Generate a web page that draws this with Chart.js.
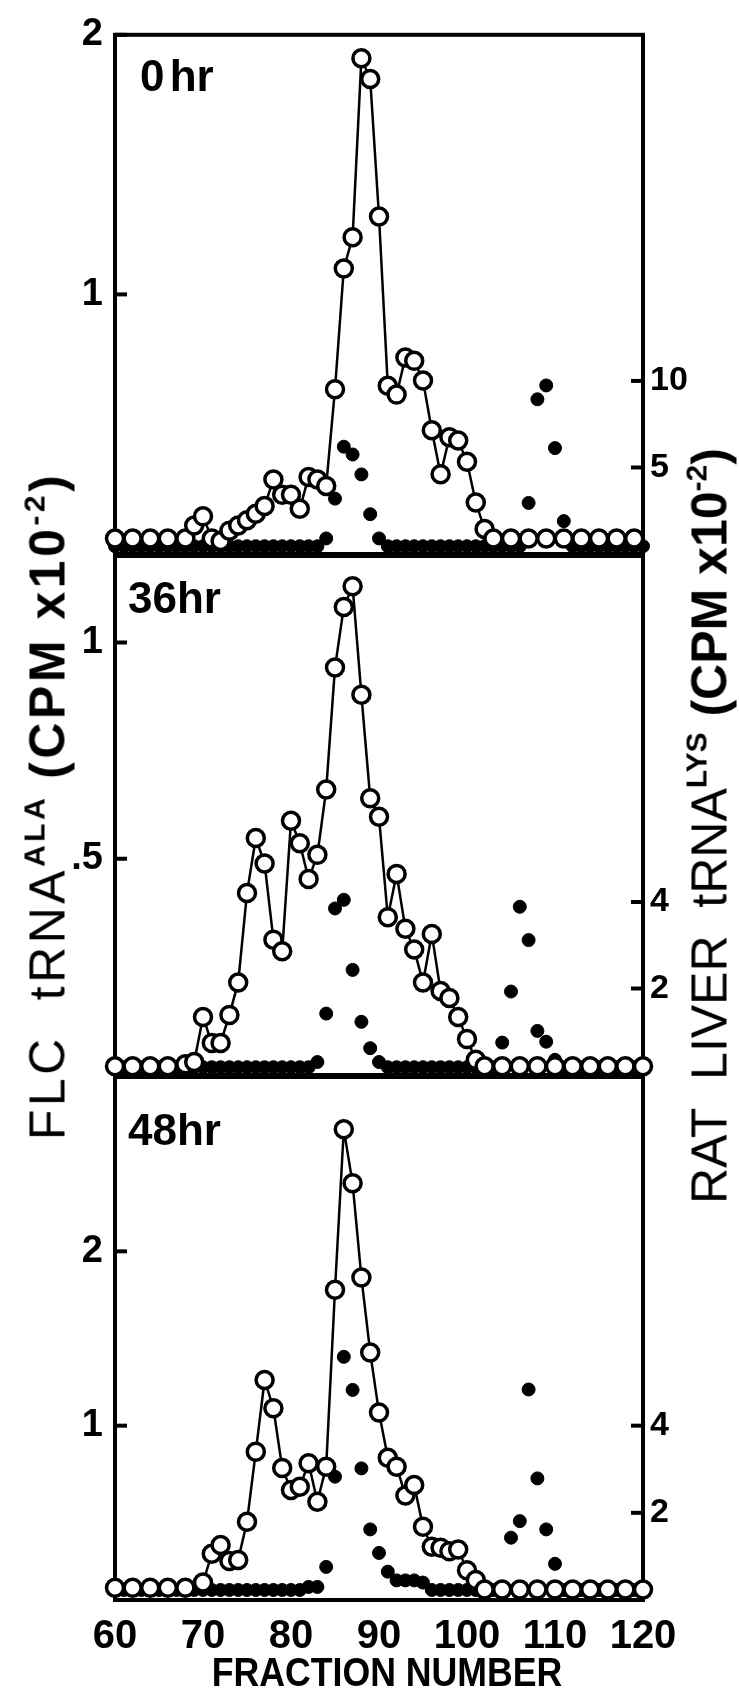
<!DOCTYPE html>
<html>
<head>
<meta charset="utf-8">
<title>FLC tRNA-Ala / rat liver tRNA-Lys elution profiles</title>
<script src="https://cdn.jsdelivr.net/npm/chart.js"></script>
<style>
  body { margin: 0; background: #fff; }
  #wrap {
    position: relative; width: 739px; height: 1693px; overflow: hidden;
    font-family: 'Liberation Sans', Arial, sans-serif; color: #000;
  }
  canvas { position: absolute; left: 0; top: 0; }
  .tag { position: absolute; font-weight: bold; font-size: 44px; line-height: 44px; white-space: nowrap; }
  .vtitle {
    position: absolute; white-space: nowrap; font-size: 50px; line-height: 50px;
    transform: translate(-50%, -50%) rotate(-90deg);
  }
  .vtitle .sup { font-size: 30px; position: relative; top: -20px; font-weight: bold; margin-right: 16px; }
  .vtitle .sup.last { margin-right: 0; }
  #xtitle {
    position: absolute; left: 387px; top: 1672px; white-space: nowrap;
    font-weight: bold; font-size: 41px; line-height: 41px;
    transform: translate(-50%, -50%) scaleX(0.87);
  }
</style>
</head>
<body>
<div id="wrap">
  <canvas id="panel1" width="739" height="1693"></canvas>
  <canvas id="panel2" width="739" height="1693"></canvas>
  <canvas id="panel3" width="739" height="1693"></canvas>

  <div class="tag" style="left:140px; top:54px; word-spacing:-7px;">0 hr</div>
  <div class="tag" style="left:128px; top:576px;">36hr</div>
  <div class="tag" style="left:128px; top:1108px;">48hr</div>

  <div class="vtitle" style="left:51px; top:806px; letter-spacing:3.5px;">FLC&nbsp; tRNA<span class="sup">ALA</span><b>(CPM x10</b><span class="sup last">-2</span><b>)</b></div>
  <div class="vtitle" style="left:713px; top:826px; letter-spacing:0px;">RAT&nbsp; LIVER&nbsp; tRNA<span class="sup">LYS</span><b>(CPM x10</b><span class="sup last">-2</span><b>)</b></div>
  <div id="xtitle">FRACTION NUMBER</div>
</div>

<script>
  // ---- data ----
  const xTicks = [60, 70, 80, 90, 100, 110, 120];

  // every fraction counted for the rat liver tRNA-Lys marker (filled dots)
  const ratFrac = [60, 61, 62, 63, 64, 65, 66, 67, 68, 69, 70, 71, 72, 73, 74, 75, 76, 77, 78, 79,
                   80, 81, 82, 83, 84, 85, 86, 87, 88, 89, 90, 91, 92, 93, 94, 95, 96, 97, 98, 99,
                   100, 101, 102, 103, 104, 105, 106, 107, 108, 109, 110, 111, 112, 113, 114, 115,
                   116, 117, 118, 119, 120];

  // 0 hr
  const p1Frac = [60, 62, 64, 66, 68, 69, 70, 71, 72, 73, 74, 75, 76, 77, 78, 79, 80, 81, 82, 83,
                  84, 85, 86, 87, 88, 89, 90, 91, 92, 93, 94, 95, 96, 97, 98, 99, 100, 101, 102, 103,
                  105, 107, 109, 111, 113, 115, 117, 119];
  const p1Flc = [0.06, 0.06, 0.06, 0.06, 0.06, 0.11, 0.145, 0.06, 0.05, 0.09, 0.11, 0.13, 0.155, 0.185,
                 0.287, 0.228, 0.228, 0.174, 0.297, 0.287, 0.262, 0.635, 1.10, 1.22, 1.91, 1.83, 1.30,
                 0.648, 0.614, 0.757, 0.744, 0.668, 0.477, 0.307, 0.45, 0.437, 0.355, 0.198, 0.096,
                 0.06, 0.06, 0.06, 0.06, 0.06, 0.06, 0.06, 0.06, 0.06];
  const p1Rat = [0.45, 0.45, 0.45, 0.45, 0.45, 0.45, 0.45, 0.45, 0.45, 0.45, 0.45, 0.45, 0.45, 0.45,
                 0.45, 0.45, 0.45, 0.45, 0.45, 0.45, 0.45, 0.45, 0.45, 0.45,
                 0.9, 3.2, 6.2, 5.75, 4.6, 2.3, 0.9,
                 0.45, 0.45, 0.45, 0.45, 0.45, 0.45, 0.45, 0.45, 0.45, 0.45, 0.45, 0.45, 0.45, 0.45,
                 0.45, 0.45,
                 2.95, 8.94, 9.74, 6.12, 1.9,
                 0.45, 0.45, 0.45, 0.45, 0.45, 0.45, 0.45, 0.45, 0.45];

  // 36 hr
  const p2Frac = [60, 62, 64, 66, 68, 69, 70, 71, 72, 73, 74, 75, 76, 77, 78, 79, 80, 81, 82, 83,
                  84, 85, 86, 87, 88, 89, 90, 91, 92, 93, 94, 95, 96, 97, 98, 99, 100, 101, 102,
                  104, 106, 108, 110, 112, 114, 116, 118, 120];
  const p2Flc = [0.02, 0.02, 0.02, 0.02, 0.025, 0.03, 0.134, 0.074, 0.074, 0.139, 0.214, 0.421, 0.548,
                 0.489, 0.313, 0.286, 0.588, 0.536, 0.453, 0.509, 0.66, 0.942, 1.082, 1.13, 0.879,
                 0.64, 0.597, 0.365, 0.465, 0.338, 0.29, 0.214, 0.326, 0.194, 0.178, 0.134, 0.083,
                 0.035, 0.02, 0.02, 0.02, 0.02, 0.02, 0.02, 0.02, 0.02, 0.02, 0.02];
  const p2Rat = [0.18, 0.18, 0.18, 0.18, 0.18, 0.18, 0.18, 0.18, 0.18, 0.18, 0.18, 0.18, 0.18, 0.18,
                 0.18, 0.18, 0.18, 0.18, 0.18, 0.18, 0.18, 0.18, 0.18,
                 0.3, 1.42, 3.85, 4.05, 2.43, 1.23, 0.62, 0.3,
                 0.18, 0.18, 0.18, 0.18, 0.18, 0.18, 0.18, 0.18, 0.18, 0.18, 0.18, 0.18, 0.18,
                 0.75, 1.93, 3.89, 3.12, 1.02, 0.77, 0.35,
                 0.18, 0.18, 0.18, 0.18, 0.18, 0.18, 0.18, 0.18, 0.18, 0.18];

  // 48 hr
  const p3Frac = [60, 62, 64, 66, 68, 70, 71, 72, 73, 74, 75, 76, 77, 78, 79, 80, 81, 82, 83, 84,
                  85, 86, 87, 88, 89, 90, 91, 92, 93, 94, 95, 96, 97, 98, 99, 100, 101, 102,
                  104, 106, 108, 110, 112, 114, 116, 118, 120];
  const p3Flc = [0.07, 0.07, 0.07, 0.07, 0.07, 0.10, 0.265, 0.316, 0.224, 0.23, 0.449, 0.851, 1.262,
                 1.10, 0.757, 0.631, 0.65, 0.785, 0.564, 0.765, 1.78, 2.70, 2.39, 1.85, 1.42, 1.075,
                 0.816, 0.765, 0.60, 0.66, 0.42, 0.306, 0.30, 0.28, 0.29, 0.17, 0.115, 0.06,
                 0.06, 0.06, 0.06, 0.06, 0.06, 0.06, 0.06, 0.06, 0.06];
  const p3Rat = [0.23, 0.23, 0.23, 0.23, 0.23, 0.23, 0.23, 0.23, 0.23, 0.23, 0.23, 0.23, 0.23, 0.23,
                 0.23, 0.23, 0.23, 0.23, 0.23, 0.23, 0.23, 0.23,
                 0.3, 0.3, 0.76, 2.83, 5.58, 4.82, 3.02, 1.62, 1.08, 0.65, 0.45, 0.45, 0.45, 0.4,
                 0.23, 0.23, 0.23, 0.23, 0.23, 0.23, 0.23, 0.23,
                 0.3, 1.43, 1.81, 4.83, 2.79, 1.62, 0.83,
                 0.23, 0.23, 0.23, 0.23, 0.23, 0.23, 0.23, 0.23, 0.23, 0.23];

  // axis ranges and tick labels
  const p1LeftTicks = [1, 2],    p1LeftLabels = ['1', '2'];
  const p1RightTicks = [5, 10],  p1RightLabels = ['5', '10'];
  const p2LeftTicks = [0.5, 1],  p2LeftLabels = ['.5', '1'];
  const p2RightTicks = [2, 4],   p2RightLabels = ['2', '4'];
  const p3LeftTicks = [1, 2],    p3LeftLabels = ['1', '2'];
  const p3RightTicks = [2, 4],   p3RightLabels = ['2', '4'];

  // ---- layout ----
  const H = 1693;
  const PLOT_LEFT = 115;   // left frame x
  const RIGHT_W = 96;      // 739 - right frame x
  const FONT = "'Liberation Sans', Arial, sans-serif";

  // frame + inward tick marks
  const framePlugin = {
    id: 'frame',
    beforeDatasetsDraw(chart) {
      const { ctx, chartArea: a } = chart;
      ctx.save();
      ctx.strokeStyle = '#000';
      ctx.lineWidth = 4;
      ctx.strokeRect(a.left, a.top, a.right - a.left, a.bottom - a.top);
      ['yL', 'yR'].forEach(id => {
        const s = chart.scales[id];
        const x0 = id === 'yL' ? a.left : a.right;
        const dir = id === 'yL' ? 1 : -1;
        s.ticks.forEach(t => {
          const y = s.getPixelForValue(t.value);
          ctx.beginPath();
          ctx.moveTo(x0, y);
          ctx.lineTo(x0 + dir * 12, y);
          ctx.stroke();
        });
      });
      ctx.restore();
    }
  };

  function makePanel(id, p) {
    const flcPts = p.frac.map((f, i) => ({ x: f, y: p.flc[i] }));
    const ratPts = ratFrac.map((f, i) => ({ x: f, y: p.rat[i] }));
    return new Chart(document.getElementById(id), {
      type: 'line',
      data: {
        datasets: [
          {
            label: 'FLC tRNA Ala',
            data: flcPts,
            yAxisID: 'yL',
            borderColor: '#000',
            borderWidth: 2.5,
            pointRadius: 8.5,
            pointBorderWidth: 3.5,
            pointBackgroundColor: '#fff',
            pointBorderColor: '#000',
            tension: 0,
            clip: false
          },
          {
            label: 'Rat liver tRNA Lys',
            data: ratPts,
            yAxisID: 'yR',
            showLine: false,
            pointRadius: 6.5,
            pointBorderWidth: 1,
            pointBackgroundColor: '#000',
            pointBorderColor: '#000',
            clip: false
          }
        ]
      },
      options: {
        responsive: false,
        animation: false,
        events: [],
        layout: { padding: { top: p.top, left: 0, right: 0, bottom: 0 } },
        plugins: { legend: { display: false }, tooltip: { enabled: false } },
        scales: {
          x: {
            type: 'linear', position: 'bottom', min: 60, max: 120,
            grid: { display: false }, border: { display: false },
            ticks: {
              display: p.showX, autoSkip: false, maxRotation: 0, padding: 5,
              color: '#000', font: { family: FONT, size: 40, weight: 'bold' }
            },
            afterBuildTicks: s => { s.ticks = xTicks.map(v => ({ value: v })); },
            afterFit: s => { s.height = H - p.bottom; }
          },
          yL: {
            type: 'linear', position: 'left', min: 0, max: p.leftMax,
            grid: { display: false, drawTicks: false }, border: { display: false },
            ticks: {
              autoSkip: false, padding: 12, color: '#000',
              font: { family: FONT, size: 38, weight: 'bold' },
              callback: (v, i) => p.leftLabels[i]
            },
            afterBuildTicks: s => { s.ticks = p.leftTicks.map(v => ({ value: v })); },
            afterFit: s => { s.width = PLOT_LEFT; }
          },
          yR: {
            type: 'linear', position: 'right', min: 0, max: p.rightMax,
            grid: { display: false, drawTicks: false }, border: { display: false },
            ticks: {
              autoSkip: false, padding: 7, color: '#000',
              font: { family: FONT, size: 34, weight: 'bold' },
              callback: (v, i) => p.rightLabels[i]
            },
            afterBuildTicks: s => { s.ticks = p.rightTicks.map(v => ({ value: v })); },
            afterFit: s => { s.width = RIGHT_W; }
          }
        }
      },
      plugins: [framePlugin]
    });
  }

  makePanel('panel1', {
    top: 28, bottom: 554, showX: false,
    frac: p1Frac, flc: p1Flc, rat: p1Rat,
    leftMax: 2, rightMax: 30,
    leftTicks: p1LeftTicks, leftLabels: p1LeftLabels,
    rightTicks: p1RightTicks, rightLabels: p1RightLabels
  });
  makePanel('panel2', {
    top: 556, bottom: 1075, showX: false,
    frac: p2Frac, flc: p2Flc, rat: p2Rat,
    leftMax: 1.2, rightMax: 12,
    leftTicks: p2LeftTicks, leftLabels: p2LeftLabels,
    rightTicks: p2RightTicks, rightLabels: p2RightLabels
  });
  makePanel('panel3', {
    top: 1077, bottom: 1600, showX: true,
    frac: p3Frac, flc: p3Flc, rat: p3Rat,
    leftMax: 3, rightMax: 12,
    leftTicks: p3LeftTicks, leftLabels: p3LeftLabels,
    rightTicks: p3RightTicks, rightLabels: p3RightLabels
  });
</script>
</body>
</html>
